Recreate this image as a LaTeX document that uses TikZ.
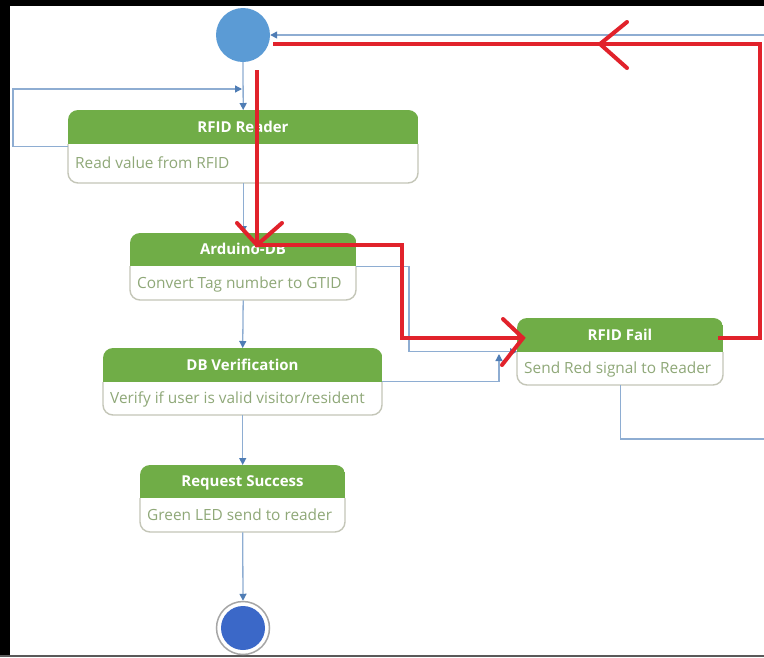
\documentclass[tikz,border=0pt]{standalone}
\usepackage{fontspec}
\setmainfont{Open Sans}
\usetikzlibrary{arrows.meta}
\definecolor{hdrgreen}{HTML}{70AD47}
\definecolor{bodytxt}{HTML}{8FA878}
\definecolor{boxline}{HTML}{C4C6B8}
\definecolor{connc}{HTML}{8EADD2}
\definecolor{connhead}{HTML}{4F7DB5}
\definecolor{startblue}{HTML}{5B9BD5}
\definecolor{endblue}{HTML}{3B68C8}
\definecolor{annot}{HTML}{E1222B}
\tikzset{
  conn/.style={draw=connc, line width=1.3pt, -{Triangle[length=7pt,width=7pt,fill=connhead,color=connhead]}},
  redline/.style={draw=annot, line width=4pt, line join=miter},
  chev/.style={draw=annot, line width=4pt, line cap=round, line join=miter},
  boxoutline/.style={draw=boxline, line width=1.4pt, rounded corners=10pt},
  titletext/.style={text=white, font=\fontsize{15}{18}\selectfont\bfseries, inner sep=0pt, text height=10.7pt, text depth=0pt},
  bodytext/.style={text=bodytxt, font=\fontsize{15.4}{18}\selectfont, inner sep=0pt, anchor=west, text height=10.9pt, text depth=0pt},
  boxnode/.style={draw=none, inner sep=0pt, anchor=north west},
}
% name, x1, y1, x2, y2, header bottom, title, body
\newcommand\statebox[8]{%
  \node[boxnode, minimum width={(#4-#2)*1pt}, minimum height={(#5-#3)*1pt}] (#1) at (#2,#3) {};
  \fill[white, rounded corners=10pt] (#1.north west) rectangle (#1.south east);
  \draw[boxoutline] (#2,#6) -- (#2,#5) -- (#4,#5) -- (#4,#6);
  \begin{scope}
    \clip[rounded corners=10pt] (#1.north west) rectangle (#1.south east);
    \fill[hdrgreen] (#1.north west) rectangle (#4,#6);
  \end{scope}
  \node[titletext] (#1-t) at ({(#2+#4)/2},{(#3+#6)/2}) {#7};
  \node[bodytext] (#1-b) at ({#2+7},{(#6+#5)/2}) {#8};
}
\begin{document}
\begin{tikzpicture}[x=1pt,y=-1pt]
\clip (0,0) rectangle (764,657);
\fill[white] (0,0) rectangle (764,657);
% frame
\fill[black] (0,0) rectangle (10,657);
\fill[black] (0,0) rectangle (764,6);
\draw[black!65, line width=2pt] (0,655.5) -- (764,655.5);

% states
\node[circle, fill=startblue, minimum size=54pt, inner sep=0pt] (start) at (243,35) {};
\node[circle, draw=black!35, line width=1.5pt, fill=white, minimum size=53pt, inner sep=0pt] (endo) at (243,628) {};
\node[circle, fill=endblue, minimum size=44pt, inner sep=0pt] (endi) at (243,628) {};

\statebox{reader}{68}{110}{418}{183}{144}{RFID Reader}{Read value from RFID}
\statebox{ardu}{130}{233}{356}{300}{266}{Arduino-DB}{Convert Tag number to GTID}
\statebox{dbv}{103}{348}{382}{415}{382}{DB Verification}{Verify if user is valid visitor/resident}
\statebox{fail}{517}{318}{723}{385}{352}{RFID Fail}{Send Red signal to Reader}
\statebox{succ}{140}{465}{345}{532}{498}{Request Success}{Green LED send to reader}

% connectors
\coordinate (loopin) at (242,89);
\coordinate (j1) at (409,266);
\coordinate (dbvup) at (499,354);
\coordinate (outlow) at (766,439);
\coordinate (outtop) at (766,35);
\draw[conn] (start.south) -- (reader.north);
\draw[conn] (reader.west) -- ++(-55,0) |- (loopin);
\draw[conn] (reader.south) -- (ardu.north);
\draw[conn] (ardu.east) -| (j1 |- fail.west) -- (fail.west);
\draw[conn] (ardu.south) -- (dbv.north);
\draw[conn] (dbv.east) -| (dbvup);
\draw[conn] (dbv.south) -- (succ.north);
\draw[conn] (succ.south) -- (endo.north);
\draw[conn] (fail.south) |- (outlow) -- (outtop) -- (start.east);

% red annotations
\coordinate (r0) at (257,70);
\coordinate (r1) at (257,245);
\coordinate (r2) at (402,245);
\coordinate (r3) at (402,338);
\coordinate (r4) at (523,338);
\coordinate (s0) at (718,338);
\coordinate (s1) at (760,338);
\coordinate (s2) at (760,44);
\coordinate (s3) at (273,44);
\coordinate (s4) at (600,44);
\draw[redline] (r0) -- (r1) -- (r2) -- (r3) -- (r4);
\draw[chev] (237,223) -- (r1) -- (282,223);
\draw[chev] (503,319) -- (r4) -- (502,365);
\draw[redline] (s0) -- (s1) -- (s2) -- (s3);
\draw[chev] (627,22) -- (s4) -- (627,68);
\end{tikzpicture}
\end{document}
